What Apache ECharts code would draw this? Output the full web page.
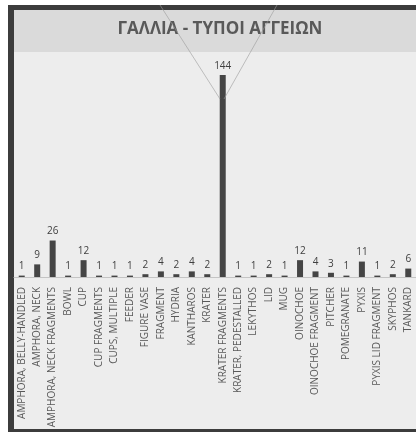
<!DOCTYPE html>
<html>
<head>
<meta charset="utf-8">
<script src="https://cdn.jsdelivr.net/npm/echarts@6/dist/echarts.min.js"></script>
<style>
  html, body { margin: 0; padding: 0; background: #fff; }
  #chart { width: 416px; height: 433px; }
</style>
</head>
<body>
<div id="chart"></div>
<script>
// κατηγορίες αγγείων
const categories = [
    'AMPHORA, BELLY-HANDLED', 'AMPHORA, NECK', 'AMPHORA, NECK FRAGMENTS', 'BOWL', 'CUP',
    'CUP FRAGMENTS', 'CUPS, MULTIPLE', 'FEEDER', 'FIGURE VASE', 'FRAGMENT', 'HYDRIA',
    'KANTHAROS', 'KRATER', 'KRATER FRAGMENTS', 'KRATER, PEDESTALLED', 'LEKYTHOS', 'LID',
    'MUG', 'OINOCHOE', 'OINOCHOE FRAGMENT', 'PITCHER', 'POMEGRANATE', 'PYXIS',
    'PYXIS LID FRAGMENT', 'SKYPHOS', 'TANKARD'
];
const counts = [1, 9, 26, 1, 12, 1, 1, 1, 2, 4, 2, 4, 2, 144, 1, 1, 2, 1, 12, 4, 3, 1, 11, 1, 2, 6];

let myChart = echarts.init(document.querySelector('#chart'));
myChart.setOption({
    backgroundColor: '#ffffff',
    animation: false,
    title: {
        text: 'ΓΑΛΛΙΑ - ΤΥΠΟΙ ΑΓΓΕΙΩΝ',
        left: 215,
        textAlign: 'center',
        top: 16,
        textStyle: {
            fontFamily: 'Open Sans',
            fontWeight: 'bold',
            fontSize: 17,
            color: '#595959'
        }
    },
    // πλαίσιο και φόντο
    graphic: [
        { type: 'rect', z: -10, silent: true, shape: { x: 8, y: 5, width: 420, height: 427 }, style: { fill: '#3c3c3c' } },
        { type: 'rect', z: -9, silent: true, shape: { x: 14, y: 10, width: 410, height: 419 }, style: { fill: '#ededed' } },
        { type: 'rect', z: -8, silent: true, shape: { x: 14, y: 10, width: 410, height: 42 }, style: { fill: '#dadada' } },
        { type: 'line', z: 50, silent: true, shape: { x1: 160, y1: 5, x2: 220, y2: 99 }, style: { stroke: '#9a9a9a', lineWidth: 0.6 } },
        { type: 'line', z: 50, silent: true, shape: { x1: 277, y1: 5, x2: 224, y2: 99 }, style: { stroke: '#9a9a9a', lineWidth: 0.6 } }
    ],
    grid: {
        left: 14,
        right: 0,
        top: 75,
        bottom: 156,
        containLabel: false
    },
    xAxis: {
        type: 'category',
        data: categories,
        axisTick: { show: false },
        axisLine: { lineStyle: { color: '#c4c4c4', width: 1 } },
        axisLabel: {
            interval: 0,
            rotate: 90,
            margin: 10,
            fontFamily: 'Open Sans',
            fontSize: 10,
            color: '#595959'
        }
    },
    yAxis: {
        type: 'value',
        min: 0,
        max: 144,
        show: false
    },
    series: [{
        name: 'ΑΓΓΕΙΑ',
        type: 'bar',
        data: counts,
        barWidth: 6,
        itemStyle: { color: '#454545' },
        label: {
            show: true,
            position: 'top',
            distance: 4,
            fontFamily: 'Open Sans',
            fontSize: 10,
            color: '#404040'
        }
    }]
});
</script>
</body>
</html>
